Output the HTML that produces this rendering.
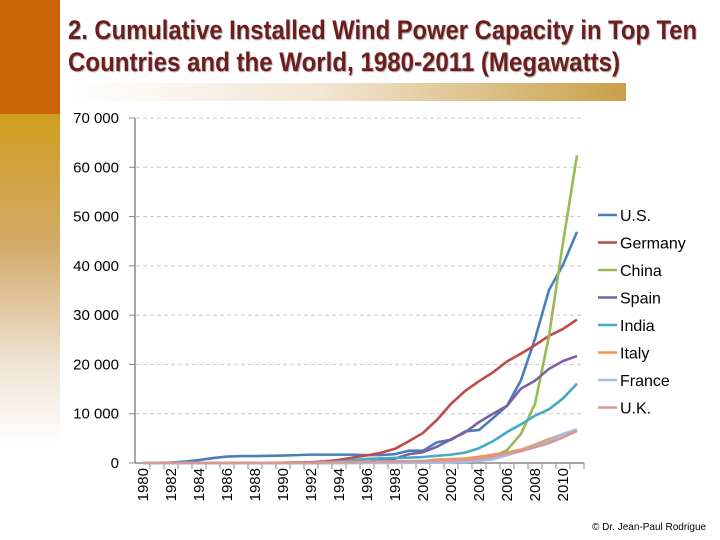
<!DOCTYPE html>
<html><head><meta charset="utf-8"><style>
body{margin:0;width:720px;height:540px;overflow:hidden;background:#fff;position:relative;font-family:"Liberation Sans",sans-serif}
#ob{position:absolute;left:0;top:0;width:60px;height:114px;background:#cc6509}
#gb{position:absolute;left:0;top:114px;width:60px;height:330px;background:linear-gradient(#cf9e1e,#d4aa6a 40%,#efe2d2 75%,#fff)}
#bar{position:absolute;left:70px;top:83px;width:556px;height:18px;background:linear-gradient(90deg,#fff,#f2e6d4 45%,#c9a048)}
.tl{position:absolute;left:68px;font-weight:bold;font-size:27px;line-height:31px;color:#6e1c1c;text-shadow:1px 1px 1px #aaa;white-space:nowrap;transform-origin:0 0}
#copy{position:absolute;left:592px;top:522px;font-size:10px;color:#000;white-space:nowrap}
</style></head><body>
<div id="ob"></div>
<div id="gb"></div>
<div id="bar"></div>
<div>
<div class="tl" id="t1" data-w="629" style="top:15px">2. Cumulative Installed Wind Power Capacity in Top Ten</div>
<div class="tl" id="t2" data-w="552" style="top:47px">Countries and the World, 1980-2011 (Megawatts)</div>
</div>
<svg id="chart" width="720" height="540" style="position:absolute;left:0;top:0"></svg>
<div id="copy">© Dr. Jean-Paul Rodrigue</div>
<script>
document.querySelectorAll('.tl').forEach(e=>{const w=e.getBoundingClientRect().width;e.style.transform='scaleX('+(+e.dataset.w/w)+')';});
const years=[];for(let y=1980;y<=2011;y++)years.push(y);
const yTicks=[0,10000,20000,30000,40000,50000,60000,70000];
const yTickLabels=["0","10 000","20 000","30 000","40 000","50 000","60 000","70 000"];
const seriesNames=["U.S.","Germany","China","Spain","India","Italy","France","U.K."];
const seriesColors=["#4a7ebb","#be4b48","#98b954","#7d60a0","#46aac5","#f69546","#a5bde0","#d99795"];
const us=[10,50,100,300,600,1000,1300,1400,1400,1450,1500,1600,1700,1700,1700,1700,1600,1600,1800,2500,2500,4200,4700,6400,6700,9100,11600,16800,25200,35100,40200,46900];
const germany=[0,0,0,0,0,10,20,30,40,50,60,110,180,330,630,1100,1550,2080,2880,4440,6100,8750,12000,14600,16600,18400,20600,22200,23900,25800,27200,29100];
const china=[0,0,0,0,0,0,0,0,0,0,0,0,0,0,30,40,80,170,220,270,340,400,470,570,760,1260,2600,5900,12000,25800,44700,62400];
const spain=[0,0,0,0,0,0,0,0,0,0,0,0,0,10,50,100,250,510,880,1800,2200,3300,4800,6200,8300,10000,11600,15100,16700,19100,20700,21700];
const india=[0,0,0,0,0,0,10,20,30,40,50,60,70,100,300,580,820,940,1020,1080,1220,1460,1700,2110,3000,4430,6270,7850,9600,10900,13100,16100];
const italy=[0,0,0,0,0,0,0,0,0,0,0,0,0,0,10,20,70,100,180,280,400,700,800,900,1250,1700,2100,2700,3700,4850,5800,6800];
const france=[0,0,0,0,0,0,0,0,0,0,0,0,0,0,0,0,10,20,20,30,70,100,150,250,380,750,1560,2450,3400,4500,5900,6800];
const uk=[0,0,0,0,0,0,0,0,0,0,10,20,50,150,200,200,270,330,340,360,400,470,550,650,900,1350,1960,2400,3200,4050,5200,6500];
const series=[us,germany,china,spain,india,italy,france,uk];

const svg=document.getElementById('chart');const NS='http://www.w3.org/2000/svg';
const x0=136,step=14,yBase=463,yTop=118,yMax=70000;
const xPos=i=>x0+step*(i+0.5);
const yPos=v=>yBase-(v/yMax)*(yBase-yTop);
function mk(t,a){const e=document.createElementNS(NS,t);for(const k in a)e.setAttribute(k,a[k]);svg.appendChild(e);return e;}
yTicks.forEach((v,i)=>{
  if(v>0){const g=mk('line',{x1:136,x2:582,y1:yPos(v),y2:yPos(v),stroke:'#c8c8c8','stroke-dasharray':'4,3'});
  
  }
  const tk=mk('line',{x1:129,x2:135,y1:yPos(v),y2:yPos(v),stroke:'#888'});
  
  
  const t=mk('text',{x:119,y:yPos(v)+5,'text-anchor':'end','font-size':'15','font-family':'Liberation Sans, sans-serif',fill:'#000'});
  t.textContent=yTickLabels[i];
  
  
});
const ya=mk('line',{x1:135,x2:135,y1:yTop,y2:yBase,stroke:'#888','stroke-width':1.5});


const xa=mk('line',{x1:135,x2:584,y1:yBase,y2:yBase,stroke:'#888','stroke-width':1.5});


years.forEach((yr,i)=>{
  const tk=mk('line',{x1:x0+step*(i+1),x2:x0+step*(i+1),y1:yBase,y2:yBase+6,stroke:'#888'});
  
  
  if(i%2===0){const t=mk('text',{x:0,y:0,'text-anchor':'end','font-size':'15','font-family':'Liberation Sans, sans-serif',transform:`translate(${xPos(i)+5},468) rotate(-90)`});
  t.textContent=yr;
  
  }
});
series.forEach((s,k)=>{
  const p=mk('polyline',{points:s.map((v,i)=>xPos(i)+','+yPos(v)).join(' '),fill:'none',stroke:seriesColors[k],'stroke-width':2.6,'stroke-linejoin':'round'});
  
  
});
seriesNames.forEach((n,k)=>{
  const y=215+k*27.5;
  const l=mk('line',{x1:598,x2:617,y1:y,y2:y,stroke:seriesColors[k],'stroke-width':2.5});
  
  
  const t=mk('text',{x:620,y:y+6,'font-size':'16','font-family':'Liberation Sans, sans-serif'});
  t.textContent=n;
  
  
});
</script>
</body></html>
